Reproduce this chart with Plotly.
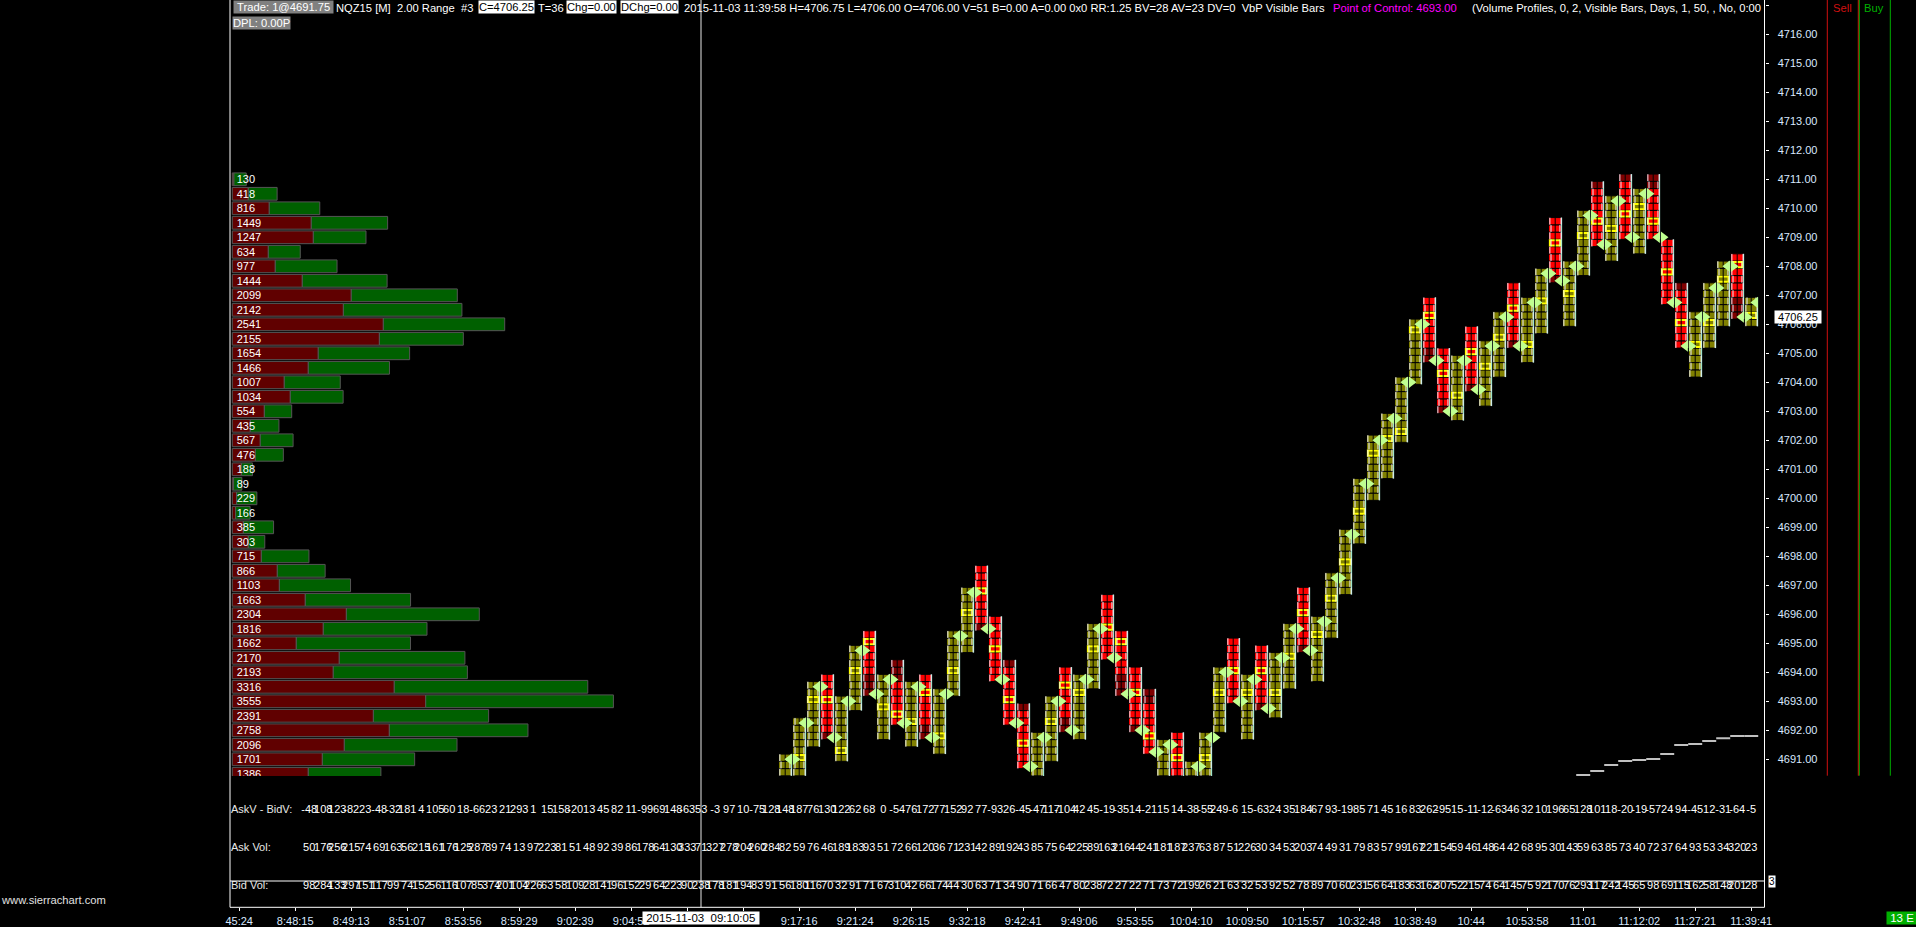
import plotly.graph_objects as go

W, H = 1916, 927
FONT = "Liberation Sans"
FS = 11
HS = 11.2

# ---------- data ----------
bar_index = list(range(39, 109))
bar_high = [4691.0, 4692.25, 4693.5, 4693.75, 4693.0, 4694.75, 4695.25, 4693.75, 4694.25, 4693.5,
            4693.75, 4693.25, 4695.25, 4696.75, 4697.5, 4695.75, 4694.25, 4692.75, 4691.75, 4693.0,
            4694.0, 4693.75, 4695.5, 4696.5, 4695.25, 4694.0, 4693.25, 4691.5, 4691.75, 4690.75,
            4691.75, 4694.0, 4695.0, 4693.75, 4694.75, 4694.5, 4695.5, 4696.75, 4695.75, 4697.25,
            4698.75, 4700.5, 4702.0, 4702.75, 4704.0, 4706.0, 4706.75, 4705.0, 4704.75, 4705.75,
            4705.25, 4706.25, 4707.25, 4706.75, 4707.75, 4709.5, 4708.0, 4709.75, 4710.75, 4710.25,
            4711.0, 4710.5, 4711.0, 4708.75, 4707.25, 4706.25, 4707.25, 4708.0, 4708.25, 4706.75]
bar_low = [4690.5, 4690.5, 4691.5, 4691.75, 4691.0, 4692.75, 4693.25, 4691.75, 4692.25, 4691.5,
           4691.75, 4691.25, 4693.25, 4694.75, 4695.5, 4693.75, 4692.25, 4690.75, 4689.75, 4691.0,
           4692.0, 4691.75, 4693.5, 4694.5, 4693.25, 4692.0, 4691.25, 4689.5, 4689.75, 4688.75,
           4689.75, 4692.0, 4693.0, 4691.75, 4692.75, 4692.5, 4693.5, 4694.75, 4693.75, 4695.25,
           4696.75, 4698.5, 4700.0, 4700.75, 4702.0, 4704.0, 4704.75, 4703.0, 4702.75, 4703.75,
           4703.25, 4704.25, 4705.25, 4704.75, 4705.75, 4707.5, 4706.0, 4707.75, 4708.75, 4708.25,
           4709.0, 4708.5, 4709.0, 4706.75, 4705.25, 4704.25, 4705.25, 4706.0, 4706.25, 4706.0]
bar_poc = [None, 4691.0, 4693.0, 4693.0, 4691.25, 4694.0, 4695.0, 4692.75, 4692.5, 4692.25,
           4693.25, 4691.75, 4694.0, 4696.0, 4696.75, 4694.75, 4693.0, 4691.5, None, 4692.25,
           4693.5, 4693.25, 4694.75, 4695.5, 4695.0, 4693.25, 4691.75, None, 4691.0, None,
           4691.0, 4693.25, 4694.0, 4693.25, 4694.0, 4693.25, 4694.5, 4696.0, 4695.25, 4696.5,
           4697.75, 4699.5, 4701.5, 4702.0, 4702.25, 4705.75, 4706.25, 4704.25, 4703.5, 4705.0,
           4704.5, 4705.5, 4706.5, 4705.25, 4706.75, 4708.75, 4707.0, 4709.0, 4709.5, 4709.25,
           4709.75, 4710.0, 4709.5, 4707.75, 4706.0, 4705.25, 4706.0, 4707.5, 4708.0, 4706.25]
bar_up = [1, 1, 1, 0, 1, 1, 0, 1, 0, 1,
          0, 1, 1, 1, 0, 0, 0, 0, 1, 1,
          0, 1, 1, 0, 0, 0, 0, 1, 0, 1,
          1, 1, 0, 1, 0, 1, 1, 0, 1, 1,
          1, 1, 1, 1, 1, 1, 0, 0, 1, 0,
          1, 1, 0, 1, 1, 0, 1, 1, 0, 1,
          0, 1, 0, 0, 0, 1, 1, 1, 0, 1]

profile_price = [4711.0, 4710.5, 4710.0, 4709.5, 4709.0, 4708.5, 4708.0, 4707.5, 4707.0, 4706.5, 4706.0,
                 4705.5, 4705.0, 4704.5, 4704.0, 4703.5, 4703.0, 4702.5, 4702.0, 4701.5, 4701.0,
                 4700.5, 4700.0, 4699.5, 4699.0, 4698.5, 4698.0, 4697.5, 4697.0, 4696.5, 4696.0,
                 4695.5, 4695.0, 4694.5, 4694.0, 4693.5, 4693.0, 4692.5, 4692.0, 4691.5, 4691.0, 4690.5]
profile_total = [130, 418, 816, 1449, 1247, 634, 977, 1444, 2099, 2142, 2541,
                 2155, 1654, 1466, 1007, 1034, 554, 435, 567, 476, 188,
                 89, 229, 166, 385, 303, 715, 866, 1103, 1663, 2304,
                 1816, 1662, 2170, 2193, 3316, 3555, 2391, 2758, 2096, 1701, 1386]
profile_sell = [15, 149, 345, 737, 756, 336, 401, 653, 1110, 1036, 1409,
                1372, 802, 709, 485, 541, 299, 168, 261, 215, 84,
                12, 40, 31, 103, 149, 271, 420, 439, 681, 1064,
                849, 597, 998, 942, 1511, 1804, 1316, 1465, 1045, 840, 709]

line_index = [96, 97, 98, 99, 100, 101, 102, 103, 104, 105, 106, 107, 108]
line_value = [4690.46, 4690.60, 4690.80, 4690.94, 4690.98, 4691.01, 4691.18,
              4691.49, 4691.53, 4691.63, 4691.73, 4691.80, 4691.80]

row_index = list(range(5, 109))
delta_row = [-48, 108, 123, -82, 23, -48, -32, 181, 4, 105, 60, 18, -66, 23, 21, 293, 1, 15, 158, -20,
             13, 45, 82, 11, -99, 69, 148, -63, 53, -3, 97, 10, -75, 128, 148, 187, 76, 130, 122, 62,
             68, 0, -54, 76, 172, 77, 152, 92, 77, -93, 26, -45, -47, 117, -104, 42, 45, -19, -35, 14,
             -21, 15, 14, -38, -55, 249, -6, 15, -63, 24, 35, 184, 67,
             93, -19, 85, 71, 45, 16, 83, 262, -95, 15, -11, -12, -63, 46, 32, 10, 196, 65,
             128, 101, 18, -20, -19, -57, 24, 94, -45, 12, -31, -64, -5]
ask_row = [50, 176, 256, 215, 74, 69, 163, 56, 215, 161, 176, 125, 287, 89, 74, 13, 97, 223, 81, 51,
           48, 92, 39, 86, 178, 64, 130, 333, 71, 327,
           278, 204, 260, 284, 82, 59, 76, 46, 189, 183, 93, 51, 72, 66, 120, 36, 71, 231, 42, 89,
           192, 43, 85, 75, 64, 225, 89, 163, 216, 44, 241, 181, 187, 237, 63, 87, 51, 226, 30, 34,
           53, 203, 74,
           49, 31, 79, 83, 57, 99, 167, 221, 154, 59, 46, 148, 64, 42, 68, 95, 30, 143, 59, 63,
           85, 73, 40, 72, 37, 64, 93, 53, 34, 320, 23]
bid_row = [98, 284, 133, 297, 151, 117, 99, 74, 152, 56, 116, 107, 85, 374, 201, 104, 226, 63, 58, 109,
           28, 141, 96, 152, 29, 64, 223, 90, 238, 178,
           181, 194, 83, 91, 56, 180, 116, 70, 32, 91, 71, 67, 310, 42, 66, 174, 44, 30, 63, 71,
           34, 90, 71, 66, 47, 80, 238, 72, 27, 22, 71, 73, 72, 199, 26, 21, 63, 32, 53, 92,
           52, 78, 89,
           70, 60, 231, 56, 64, 183, 63, 162, 307, 52, 215, 74, 64, 145, 75, 92, 170, 76, 293, 117,
           242, 145, 65, 98, 69, 115, 162, 58, 148, 201, 28]
row_names = ["Bid Vol:", "Ask Vol:", "AskV - BidV:"]

time_tick_index = [0, 4, 8, 12, 16, 20, 24, 28, 32, 36, 40, 44, 48, 52, 56, 60, 64, 68, 72, 76,
                   80, 84, 88, 92, 96, 100, 104, 108]
time_tick_text = ["45:24", "8:48:15", "8:49:13", "8:51:07", "8:53:56", "8:59:29", "9:02:39", "9:04:52", "", "",
                  "9:17:16", "9:21:24", "9:26:15", "9:32:18", "9:42:41", "9:49:06", "9:53:55", "10:04:10",
                  "10:09:50", "10:15:57", "10:32:48", "10:38:49", "10:44", "10:53:58", "11:01", "11:12:02",
                  "11:27:21", "11:39:41"]

# ---------- layout geometry (pixels of the window) ----------
PLOT_L, PLOT_R = 230.0, 1764.5
MAIN_B, PANEL_B = 776.0, 907.3
BAR0_X, BAR_PX = 239.2, 14.0          # bar 0 centre, pixels per bar
PRICE_Y, PRICE_PX = 179.3, 29.0       # y of 4711, pixels per point
VOL0_X, VOL_PX = 232.3, 0.1072
ROW0_Y, ROW_PX = 886.7, 38.0
OFF = 0.055
px = lambda x: x / W
py = lambda y: 1 - y / H

# ---------- footprint cells ----------
cx, cbase, ccol = [], [], []
gx, gy = [], []
for i, n in enumerate(bar_index):
    p = bar_low[i]
    k = 0
    while p <= bar_high[i] + 1e-9:
        cx.append(n)
        cbase.append(p - 0.125 + OFF)
        if bar_up[i]:
            ccol.append("#808000")
        else:
            near = bar_poc[i] is not None and abs(p - bar_poc[i]) <= 1.0
            ccol.append("#ff0000" if near else "#800000")
        gx += [n - 0.3, n + 0.34] if k % 2 else [n - 0.38, n + 0.42]
        gy += [p + OFF, p + OFF]
        p += 0.25
        k += 1

fig = go.Figure()
fig.add_trace(go.Bar(x=cx, base=cbase, y=[0.25] * len(cx), width=0.96,
                     marker=dict(color=ccol, line=dict(color="#000000", width=1))))
pi = [i for i, v in enumerate(bar_poc) if v is not None]
fig.add_trace(go.Bar(x=[bar_index[i] for i in pi],
                     base=[bar_poc[i] - 0.09 + OFF for i in pi],
                     y=[0.18] * len(pi), width=0.76,
                     marker=dict(color=["#808000" if bar_up[i] else "#ff0000" for i in pi],
                                 line=dict(color="#ffff00", width=2))))

# centre split and pale edges of every bar
lx, ly, ex, ey = [], [], [], []
for i, n in enumerate(bar_index):
    t, b = bar_high[i] + 0.125 + OFF, bar_low[i] - 0.125 + OFF
    lx += [n, n, None]
    ly += [b, t, None]
    ex += [n + 0.46, n + 0.46, None]
    ey += [b, t, None]
fig.add_trace(go.Scatter(x=lx, y=ly, mode="lines", line=dict(color="#000000", width=1)))
fig.add_trace(go.Scatter(x=ex, y=ey, mode="lines", line=dict(color="#b0ffe8", width=1)))
fig.add_trace(go.Scatter(x=gx, y=gy, mode="markers",
                         marker=dict(symbol="line-ns", size=5, line=dict(color="#f0f0ff", width=1))))

# open / close triangles
closes = [h if u else l for h, l, u in zip(bar_high, bar_low, bar_up)]
opens = [bar_low[0]] + closes[:-1]
fig.add_trace(go.Scatter(x=[n + 0.3 for n in bar_index], y=closes, mode="markers",
                         marker=dict(symbol="triangle-left", size=10, color="#c0ff90", line=dict(width=0))))
fig.add_trace(go.Scatter(x=[n - 0.27 for n in bar_index[1:]], y=opens[1:], mode="markers",
                         marker=dict(symbol="triangle-right", size=10, color="#c0ff90", line=dict(width=0))))

# stepped study line
sx, sy = [], []
for n, v in zip(line_index, line_value):
    sx += [n - 0.5, n + 0.5, None]
    sy += [v, v, None]
fig.add_trace(go.Scatter(x=sx, y=sy, mode="lines", line=dict(color="#c0c0c0", width=2)))

# volume profile on its own hidden x scale
profile_buy = [t - s for t, s in zip(profile_total, profile_sell)]
edge = dict(color="#555555", width=1)
fig.add_trace(go.Bar(y=profile_price, x=profile_sell, orientation="h", width=0.44, xaxis="x2",
                     marker=dict(color="#600000", line=edge)))
fig.add_trace(go.Bar(y=profile_price, x=profile_buy, base=profile_sell, orientation="h", width=0.44, xaxis="x2",
                     marker=dict(color="#006000", line=edge)))
fig.add_trace(go.Scatter(y=[p - 0.04 for p in profile_price], x=[41] * len(profile_price), xaxis="x2", mode="text",
                         text=[str(v) for v in profile_total], textposition="middle right",
                         textfont=dict(family=FONT, size=FS, color="#ffffff")))

# bottom value rows
for name, vals in zip(["AskV - BidV:", "Ask Vol:", "Bid Vol:"], [delta_row, ask_row, bid_row]):
    fig.add_trace(go.Scatter(x=row_index, y=[name] * len(vals), yaxis="y2", mode="text",
                             text=[str(v) for v in vals], textposition="middle center",
                             textfont=dict(family=FONT, size=FS, color="#ffffff")))
fig.add_trace(go.Scatter(x=[(PLOT_L + 1 - BAR0_X) / BAR_PX] * 3, y=row_names, yaxis="y2", mode="text",
                         text=row_names, textposition="middle right",
                         textfont=dict(family=FONT, size=FS, color="#e8e8e8")))

x_range = [(PLOT_L - BAR0_X) / BAR_PX, (PLOT_R - BAR0_X) / BAR_PX]
y_range = [4711 - (MAIN_B - PRICE_Y) / PRICE_PX, 4711 + PRICE_Y / PRICE_PX]
y2_range = [-(PANEL_B - ROW0_Y) / ROW_PX, (ROW0_Y - MAIN_B) / ROW_PX]
xdom = [px(PLOT_L), px(PLOT_R)]
tfont = dict(family=FONT, size=FS, color="#d8e8ff")

shapes = []
def vline(x, y0, y1, color, w=1):
    shapes.append(dict(type="line", xref="paper", yref="paper", x0=px(x), x1=px(x),
                       y0=py(y0), y1=py(y1), line=dict(color=color, width=w)))
def hline(y, x0, x1, color, w=1):
    shapes.append(dict(type="line", xref="paper", yref="paper", x0=px(x0), x1=px(x1),
                       y0=py(y), y1=py(y), line=dict(color=color, width=w)))
vline(PLOT_L, 0, PANEL_B, "#ffffff")
vline(PLOT_R, 0, PANEL_B, "#ffffff")
vline(701, 0, PANEL_B, "#e8e8e8")
hline(881, PLOT_L, PLOT_R, "#ffffff")
hline(PANEL_B, PLOT_L, PLOT_R, "#ffffff")
vline(1827.3, 0, 775.7, "#d01010")
vline(1858.3, 0, 775.7, "#e01010")
vline(1859.3, 0, 775.7, "#00b000")
vline(1890.3, 0, 775.7, "#00b000")

ann = []
def label(x, y, text, color="#ffffff", bg=None, anchor="left", size=HS):
    ann.append(dict(xref="paper", yref="paper", x=px(x), y=py(y), text=text, showarrow=False,
                    xanchor=anchor, yanchor="middle", borderpad=0, bgcolor=bg,
                    font=dict(family=FONT, size=size, color=color)))

GREY = "#808080"
label(232.6, 7, "&nbsp;Trade: 1@4691.75&nbsp;", bg=GREY)
label(335.4, 8, "NQZ15 [M]&nbsp;&nbsp;2.00 Range&nbsp;&nbsp;#3")
label(477.7, 7, "C=4706.25", color="#000000", bg="#ffffff")
label(537.4, 8, "T=36")
label(566, 7, "Chg=0.00", color="#000000", bg="#ffffff")
label(620, 7, "DChg=0.00", color="#000000", bg="#ffffff")
label(682.5, 8, "2015-11-03 11:39:58 H=4706.75 L=4706.00 O=4706.00 V=51 B=0.00 A=0.00 0x0 RR:1.25 BV=28 AV=23 DV=0&nbsp;&nbsp;VbP Visible Bars")
label(1332, 8, "Point of Control: 4693.00", color="#ff00ff")
label(1471, 8, "(Volume Profiles, 0, 2, Visible Bars, Days, 1, 50, , No, 0:00")
label(232, 23, "DPL: 0.00P", bg=GREY)
label(1842, 8, "Sell", color="#d01010", anchor="center")
label(1873.6, 8, "Buy", color="#00b000", anchor="center")
label(0, 900, "www.sierrachart.com", color="#e0e0e0")
label(701, 918, "&nbsp;2015-11-03&nbsp;&nbsp;09:10:05&nbsp;", color="#000000", bg="#ffffff", anchor="center", size=11.5)
label(1771.7, 881, "3", color="#000000", bg="#ffffff", anchor="center", size=10)
label(1901.5, 918, "&nbsp;13 E&nbsp;", color="#ffffff", bg="#00b000", anchor="center", size=11.5)
ann.append(dict(xref="paper", yref="y", x=px(1797.5), y=4706.25, text="&nbsp;4706.25&nbsp;", showarrow=False,
                xanchor="center", yanchor="middle", borderpad=0, bgcolor="#ffffff",
                font=dict(family=FONT, size=FS, color="#000000")))

fig.update_layout(
    width=W, height=H, margin=dict(l=0, r=0, t=0, b=0, autoexpand=False),
    paper_bgcolor="#000000", plot_bgcolor="#000000",
    showlegend=False, hovermode=False, barmode="overlay",
    shapes=shapes, annotations=ann,
    xaxis=dict(domain=xdom, range=x_range, anchor="y2", showgrid=False, zeroline=False, showline=False,
               tickmode="array", tickvals=time_tick_index, ticktext=time_tick_text, ticks="outside",
               ticklen=3, tickcolor="#ffffff", tickangle=0, tickfont=tfont),
    xaxis2=dict(domain=xdom, range=[(PLOT_L - VOL0_X) / VOL_PX, (PLOT_R - VOL0_X) / VOL_PX],
                overlaying="x", anchor="y", visible=False),
    yaxis=dict(domain=[py(MAIN_B), 1], range=y_range, anchor="x", side="right", showgrid=False, zeroline=False,
               showline=False, dtick=1, tick0=4691, tickformat=".2f", ticks="outside", ticklen=3,
               tickcolor="#ffffff", tickfont=tfont, ticklabelstandoff=7),
    yaxis2=dict(domain=[py(PANEL_B), py(MAIN_B)], range=y2_range, anchor="x", type="category",
                categoryorder="array", categoryarray=row_names, showgrid=False, zeroline=False,
                showline=False, showticklabels=False, ticks=""),
)

fig.write_html("out.html", config={"displayModeBar": False, "responsive": False},
               post_script="document.body.style.margin='0';document.body.style.overflow='hidden';")
